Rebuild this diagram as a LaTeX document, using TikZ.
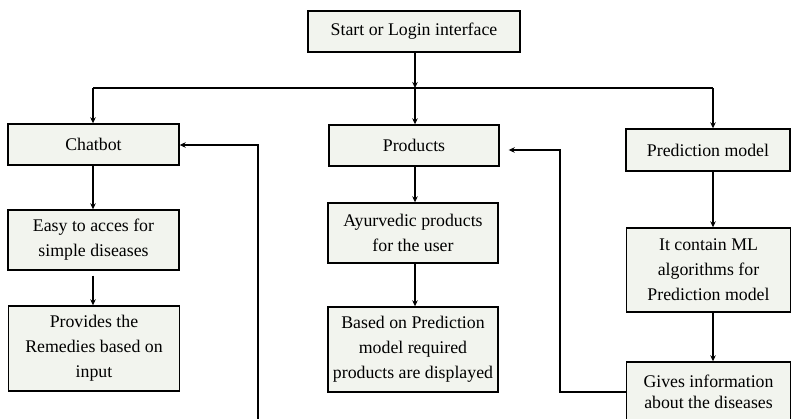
\documentclass[tikz,border=0pt]{standalone}
\usepackage{fontspec}
\setmainfont{Liberation Serif}
\usetikzlibrary{arrows.meta}
\definecolor{boxfill}{HTML}{F2F4EE}
\tikzset{
  box/.style={draw=black, line width=1.4pt, fill=boxfill, align=center, inner sep=0pt,
    font=\fontsize{17.8}{25}\selectfont},
  arr/.style={line width=1.2pt, -{Stealth[length=6pt,width=5.5pt]}},
  ln/.style={line width=1.2pt}
}
\begin{document}
\begin{tikzpicture}[x=1pt,y=-1pt]
\useasboundingbox (0,0) rectangle (791,418);
\clip (0,0) rectangle (791,418);
\node[box, minimum width=212pt, minimum height=41pt] (start) at (414,31.5) {Start or Login interface};
\node[box, minimum width=171pt, minimum height=41pt] (chat) at (93.5,144.5) {Chatbot};
\node[box, minimum width=171pt, minimum height=60pt] (easy) at (93.5,240) {Easy to acces for\\simple diseases};
\node[box, minimum width=171pt, minimum height=85pt] (prov) at (94,348.5) {Provides the\\Remedies based on\\input};
\node[box, minimum width=170pt, minimum height=41pt] (prod) at (414,145.5) {Products};
\node[box, minimum width=170pt, minimum height=60pt] (ayur) at (413,233) {Ayurvedic products\\for the user};
\node[box, minimum width=170pt, minimum height=85pt] (based) at (413,349.5) {Based on Prediction\\model required\\products are displayed};
\node[box, minimum width=164pt, minimum height=42pt] (pred) at (708,150) {Prediction model};
\node[box, minimum width=164pt, minimum height=84pt] (ml) at (708.5,270) {It contain ML\\algorithms for\\Prediction model};
\node[box, minimum width=164pt, minimum height=60pt, font=\fontsize{17.8}{21}\selectfont] (gives) at (708.5,392) {Gives information\\about the diseases};

\coordinate (j) at (415,88);
\coordinate (jl) at (93,88);
\coordinate (jr) at (713,88);
\draw[arr] (start.south -| j) -- (j);
\draw[ln] (jl) -- (jr);
\draw[arr] (j) -- (j |- prod.north);
\draw[arr] (jl) -- (jl |- chat.north);
\draw[arr] (jr) -- (jr |- pred.north);

\draw[arr] (chat.south -| jl) -- (jl |- easy.north);
\draw[arr, shorten <=5pt] (easy.south -| jl) -- (jl |- prov.north);
\draw[arr] (prod.south -| j) -- (j |- ayur.north);
\draw[arr] (ayur.south -| j) -- (j |- based.north);
\draw[arr] (pred.south -| jr) -- (jr |- ml.north);
\draw[arr] (ml.south -| jr) -- (jr |- gives.north);

\coordinate (fb) at (560,150);
\draw[arr, shorten >=9pt] (gives.west) -| (fb) -- (fb -| prod.east);
\coordinate (cb0) at (258,425);
\coordinate (cb1) at (258,145);
\draw[arr] (cb0) -- (cb1) -- (cb1 -| chat.east);
\end{tikzpicture}
\end{document}
